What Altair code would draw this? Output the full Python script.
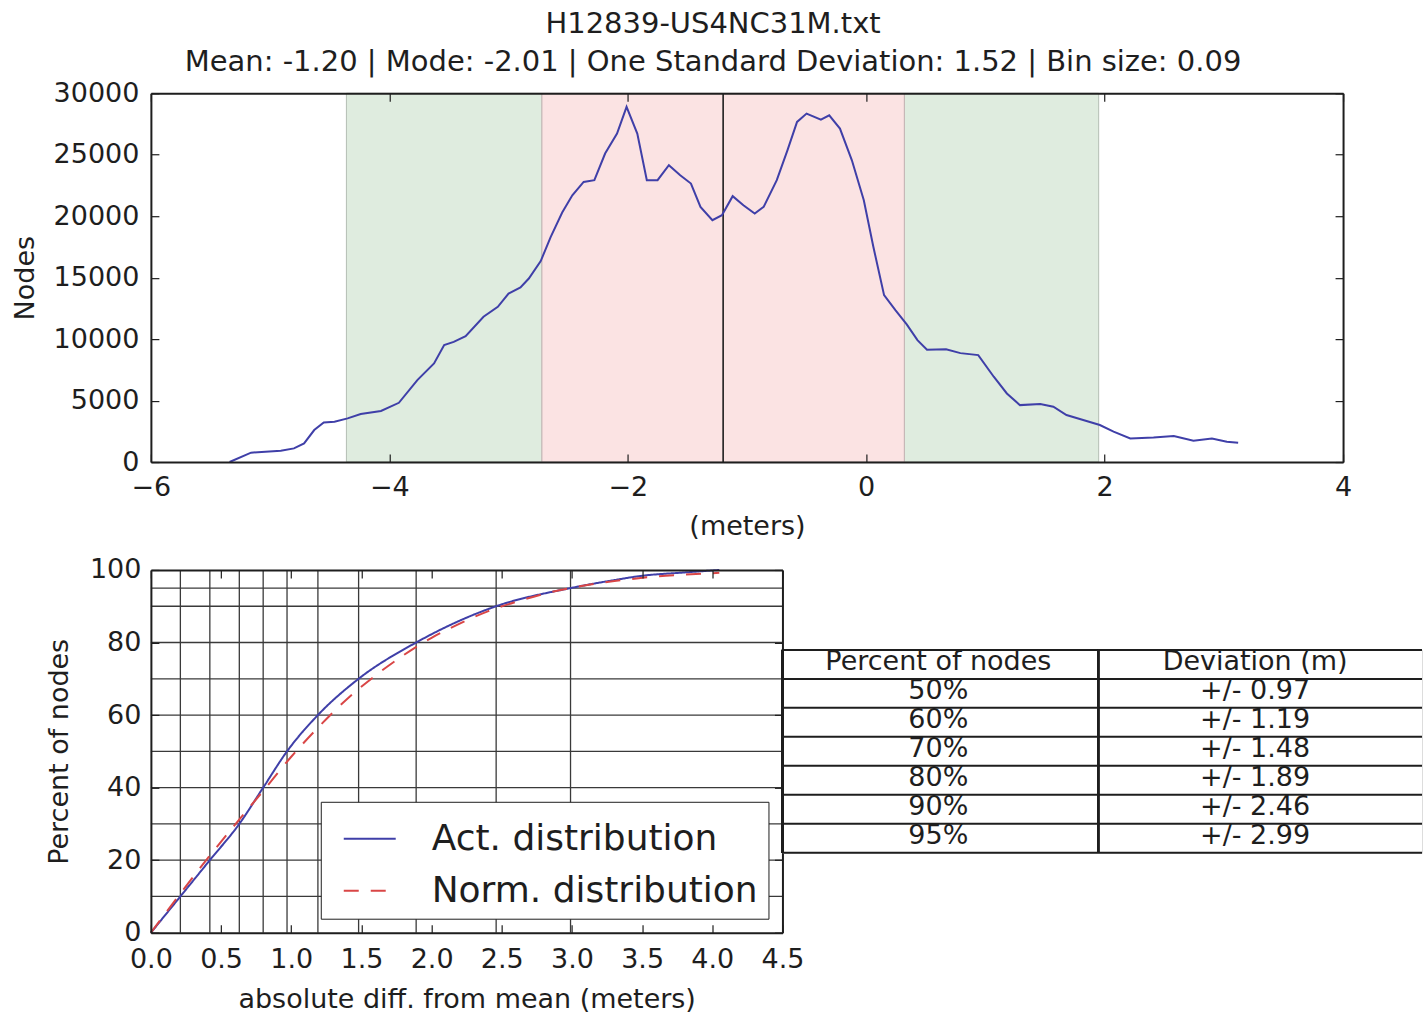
import altair as alt
import pandas as pd

FONT = "DejaVu Sans"
INK = "#1e1e1e"
BLUE = "#3f3fa8"
RED = "#d94646"
PINK = "#fbe3e3"
GREEN = "#dfecdf"

# ---- histogram of depth differences: bin centre (m) and node count ----
hist_x = [-5.34, -5.16, -4.91, -4.80, -4.715, -4.63, -4.55, -4.46, -4.35, -4.24,
          -4.07, -3.92, -3.765, -3.625, -3.54, -3.46, -3.36, -3.21, -3.09, -3.00,
          -2.90, -2.83, -2.73, -2.647, -2.55, -2.465, -2.37, -2.28, -2.19, -2.09,
          -2.01, -1.92, -1.84, -1.75, -1.655, -1.56, -1.47, -1.39, -1.29, -1.21,
          -1.12, -1.03, -0.935, -0.86, -0.75, -0.66, -0.58, -0.50, -0.38, -0.31,
          -0.22, -0.12, -0.02, 0.06, 0.15, 0.245, 0.34, 0.43, 0.51, 0.67,
          0.79, 0.94, 1.07, 1.18, 1.29, 1.46, 1.57, 1.68, 1.82, 1.96,
          2.075, 2.215, 2.41, 2.58, 2.745, 2.90, 3.025, 3.12]
hist_n = [0, 760, 920, 1110, 1520, 2600, 3220, 3280, 3550, 3900,
          4150, 4820, 6670, 8020, 9510, 9780, 10240, 11820, 12630, 13710,
          14200, 14930, 16350, 18300, 20300, 21700, 22790, 22930, 25100, 26720,
          28890, 26720, 22930, 22930, 24150, 23330, 22660, 20760, 19680, 20080,
          21630, 20890, 20220, 20760, 22930, 25370, 27670, 28350, 27860, 28210,
          27130, 24550, 21300, 17510, 13580, 12360, 11200, 9920, 9130, 9170,
          8860, 8700, 6940, 5580, 4630, 4720, 4500, 3820, 3420, 3010,
          2470, 1920, 2000, 2110, 1730, 1920, 1650, 1570]

mean_m = -1.20
mode_m = -2.01
sd_m = 1.52
bin_m = 0.09
one_sd_span = [-2.72, 0.32]
two_sd_span = [-4.36, 1.95]

x1_ticks = [-6, -4, -2, 0, 2, 4]
y1_ticks = [0, 5000, 10000, 15000, 20000, 25000, 30000]

# ---- cumulative share of nodes within a given |difference| from the mean ----
pct_levels = [10, 20, 30, 40, 50, 60, 70, 80, 90, 95]
pct_dev = [0.21, 0.42, 0.63, 0.80, 0.97, 1.19, 1.48, 1.89, 2.46, 2.99]
act_tail_dev = [3.30, 3.50, 3.80, 4.05]
act_tail_pct = [97.2, 98.4, 99.3, 100.0]
norm_dev = [0.0, 0.2, 0.4, 0.6, 0.8, 1.0, 1.2, 1.4, 1.6, 1.8, 2.0,
            2.2, 2.4, 2.6, 2.8, 3.0, 3.2, 3.4, 3.6, 3.8, 4.05]
norm_pct = [0.0, 10.3, 20.3, 29.8, 39.1, 48.5, 56.9, 64.5, 70.9, 76.5, 81.3,
            85.2, 88.6, 91.2, 93.4, 95.1, 96.4, 97.4, 98.2, 98.7, 99.2]
x2_ticks = [0.0, 0.5, 1.0, 1.5, 2.0, 2.5, 3.0, 3.5, 4.0, 4.5]
y2_ticks = [0, 20, 40, 60, 80, 100]

ACT = "Act. distribution"
NORM = "Norm. distribution"
table_from = 50

# ---------------------------------------------------------------- helpers
FS = 27
label_axis = dict(labelFont=FONT, labelFontSize=FS, labelColor=INK,
                  titleFont=FONT, titleFontSize=FS, titleFontWeight="normal",
                  titleColor=INK, tickSize=0, domain=False, grid=False)
minus_expr = "replace(datum.label, '-', '\u2212')"


def frame_axis(values, orient, offset):
    # unlabeled axis pushed onto the opposite edge: its ticks point inward and
    # its domain line draws that edge of the frame above the marks
    return alt.Axis(values=values, orient=orient, offset=offset, labels=False,
                    title=None, tickSize=8, tickColor=INK, tickWidth=1.2,
                    domain=True, domainColor=INK, domainWidth=2, grid=False, zindex=1)


# ---------------------------------------------------------------- histogram
W1, H1 = 1193, 369
xs1 = alt.Scale(domain=[x1_ticks[0], x1_ticks[-1]], nice=False, zero=False)
ys1 = alt.Scale(domain=[y1_ticks[0], y1_ticks[-1]], nice=False)

hist_df = pd.DataFrame({"x": hist_x, "n": hist_n})
two_sd_df = pd.DataFrame({"lo": [two_sd_span[0], one_sd_span[1]],
                          "hi": [one_sd_span[0], two_sd_span[1]]})
one_sd_df = pd.DataFrame({"lo": [one_sd_span[0]], "hi": [one_sd_span[1]]})
mean_df = pd.DataFrame({"m": [mean_m]})

band2 = alt.Chart(two_sd_df).mark_rect(fill=GREEN, stroke="#b4bfb4", strokeWidth=1).encode(
    x=alt.X("lo:Q", scale=xs1, axis=None), x2="hi")
band1 = alt.Chart(one_sd_df).mark_rect(fill=PINK, stroke="#c4b4b4", strokeWidth=1).encode(
    x=alt.X("lo:Q", scale=xs1, axis=None), x2="hi")
mean_rule = alt.Chart(mean_df).mark_rule(color=INK, strokeWidth=1.6).encode(
    x=alt.X("m:Q", scale=xs1, axis=None))
hist_line = alt.Chart(hist_df).mark_line(color=BLUE, strokeWidth=2).encode(
    x=alt.X("x:Q", scale=xs1,
            axis=alt.Axis(values=x1_ticks, title="(meters)", format="d", labelFlush=False,
                          labelExpr=minus_expr, labelPadding=12, titlePadding=14,
                          **label_axis)),
    y=alt.Y("n:Q", scale=ys1,
            axis=alt.Axis(values=y1_ticks, title="Nodes", format="d",
                          labelPadding=12, titlePadding=14, **label_axis)))
hist_ticks_a = alt.Chart(hist_df).mark_line(strokeOpacity=0).encode(
    x=alt.X("x:Q", scale=xs1, axis=frame_axis(x1_ticks, "top", -H1)),
    y=alt.Y("n:Q", scale=ys1, axis=frame_axis(y1_ticks, "right", -W1)))
hist_ticks_b = alt.Chart(hist_df).mark_line(strokeOpacity=0).encode(
    x=alt.X("x:Q", scale=xs1, axis=frame_axis(x1_ticks, "bottom", -H1)),
    y=alt.Y("n:Q", scale=ys1, axis=frame_axis(y1_ticks, "left", -W1)))

top = alt.layer(band2, band1, mean_rule, hist_line, hist_ticks_a, hist_ticks_b).resolve_axis(
    x="independent", y="independent").properties(width=W1, height=H1)

# ---------------------------------------------------------------- cumulative curves
W2, H2 = 632, 363
xs2 = alt.Scale(domain=[x2_ticks[0], x2_ticks[-1]], nice=False, zero=False)
ys2 = alt.Scale(domain=[y2_ticks[0], y2_ticks[-1]], nice=False)

grid_df = pd.DataFrame({"pct": pct_levels, "dev": pct_dev})
act_dev = [0.0] + pct_dev + act_tail_dev
act_pct = [0.0] + pct_levels + act_tail_pct
cdf_df = pd.concat([
    pd.DataFrame({"dev": act_dev, "pct": act_pct, "series": ACT}),
    pd.DataFrame({"dev": norm_dev, "pct": norm_pct, "series": NORM}),
], ignore_index=True)

legend_kw = dict(orient="none", legendX=170, legendY=232, title=None,
                 labelFont=FONT, labelFontSize=36, labelColor=INK, labelLimit=0,
                 symbolType="stroke", symbolSize=2704, symbolStrokeWidth=2,
                 symbolOffset=12, labelOffset=35, rowPadding=7, padding=10,
                 strokeColor=INK, fillColor="white", cornerRadius=0)

grid_v = alt.Chart(grid_df).mark_rule(color="#3a3a3a", strokeWidth=1.3).encode(
    x=alt.X("dev:Q", scale=xs2, axis=None))
grid_h = alt.Chart(grid_df).mark_rule(color="#3a3a3a", strokeWidth=1.3).encode(
    y=alt.Y("pct:Q", scale=ys2, axis=None))
cdf_lines = alt.Chart(cdf_df).mark_line(strokeWidth=2, interpolate="monotone").encode(
    x=alt.X("dev:Q", scale=xs2,
            axis=alt.Axis(values=x2_ticks, format=".1f", title="absolute diff. from mean (meters)",
                          labelFlush=False, labelPadding=14, titlePadding=14, **label_axis)),
    y=alt.Y("pct:Q", scale=ys2,
            axis=alt.Axis(values=y2_ticks, format="d", title="Percent of nodes",
                          labelPadding=10, titlePadding=16, **label_axis)),
    color=alt.Color("series:N", scale=alt.Scale(domain=[ACT, NORM], range=[BLUE, RED]),
                    legend=alt.Legend(**legend_kw)),
    strokeDash=alt.StrokeDash("series:N", scale=alt.Scale(domain=[ACT, NORM], range=[[1, 0], [15, 12]]),
                              legend=alt.Legend(**legend_kw)),
)
cdf_ticks_a = alt.Chart(cdf_df).mark_line(strokeOpacity=0).encode(
    x=alt.X("dev:Q", scale=xs2, axis=frame_axis(x2_ticks, "top", -H2)),
    y=alt.Y("pct:Q", scale=ys2, axis=frame_axis(y2_ticks, "right", -W2)))
cdf_ticks_b = alt.Chart(cdf_df).mark_line(strokeOpacity=0).encode(
    x=alt.X("dev:Q", scale=xs2, axis=frame_axis(x2_ticks, "bottom", -H2)),
    y=alt.Y("pct:Q", scale=ys2, axis=frame_axis(y2_ticks, "left", -W2)))

bottom = alt.layer(grid_v, grid_h, cdf_lines, cdf_ticks_a, cdf_ticks_b).resolve_axis(
    x="independent", y="independent").properties(width=W2, height=H2)

# ---------------------------------------------------------------- summary table
tab_pct = [p for p in pct_levels if p >= table_from]
tab_dev = [d for p, d in zip(pct_levels, pct_dev) if p >= table_from]
col_pct = ["Percent of nodes"] + [f"{p}%" for p in tab_pct]
col_dev = ["Deviation (m)"] + [f"+/- {d:.2f}" for d in tab_dev]
n_rows = len(col_pct)
tab_df = pd.DataFrame({"row": [i + 0.5 for i in range(n_rows)], "pct": col_pct, "dev": col_dev})
edge_df = pd.DataFrame({"edge": list(range(n_rows + 1))})

W3, ROW_H = 640, 29
H3 = ROW_H * n_rows
COL_SPLIT = 316
ys3 = alt.Scale(domain=[0, n_rows], reverse=True, nice=False, zero=False)

t_hlines = alt.Chart(edge_df).mark_rule(color=INK, strokeWidth=2).encode(
    y=alt.Y("edge:Q", scale=ys3, axis=None))
t_vleft = alt.Chart(edge_df).mark_rule(color=INK, strokeWidth=2).encode(
    x=alt.value(0), y=alt.value(0), y2=alt.value(H3))
t_vsplit = alt.Chart(edge_df).mark_rule(color=INK, strokeWidth=2).encode(
    x=alt.value(COL_SPLIT), y=alt.value(0), y2=alt.value(H3))
txt_kw = dict(font=FONT, fontSize=27, color=INK, baseline="middle", align="center", dy=-2)
t_pct = alt.Chart(tab_df).mark_text(**txt_kw).encode(
    y=alt.Y("row:Q", scale=ys3, axis=None), x=alt.value(156), text="pct:N")
t_dev = alt.Chart(tab_df).mark_text(**txt_kw).encode(
    y=alt.Y("row:Q", scale=ys3, axis=None), x=alt.value(473), text="dev:N")

table = alt.layer(t_hlines, t_vleft, t_vsplit, t_pct, t_dev).properties(
    width=W3, height=H3)

# ---------------------------------------------------------------- assembly
lower = alt.hconcat(bottom, table, spacing=0, bounds="flush", center=True).resolve_scale(
    color="independent", strokeDash="independent").resolve_legend(
    color="independent", strokeDash="independent")

title_lines = [
    "H12839-US4NC31M.txt",
    f"Mean: {mean_m:.2f} | Mode: {mode_m:.2f} | One Standard Deviation: {sd_m:.2f} | Bin size: {bin_m:.2f}",
]

chart = alt.vconcat(top, lower, spacing=108, bounds="flush").resolve_scale(
    color="independent", strokeDash="independent").resolve_legend(
    color="independent", strokeDash="independent").properties(
    title=alt.TitleParams(text=title_lines, font=FONT, fontSize=29, fontWeight="normal",
                          color=INK, anchor="middle", frame="bounds", dx=-4,
                          lineHeight=38, offset=2),
    padding={"left": 10, "top": 9, "right": 0, "bottom": 0},
    background="white",
).configure_view(stroke=None).configure(font=FONT)

chart.save("out.html", embed_options={"renderer": "svg", "actions": False})
